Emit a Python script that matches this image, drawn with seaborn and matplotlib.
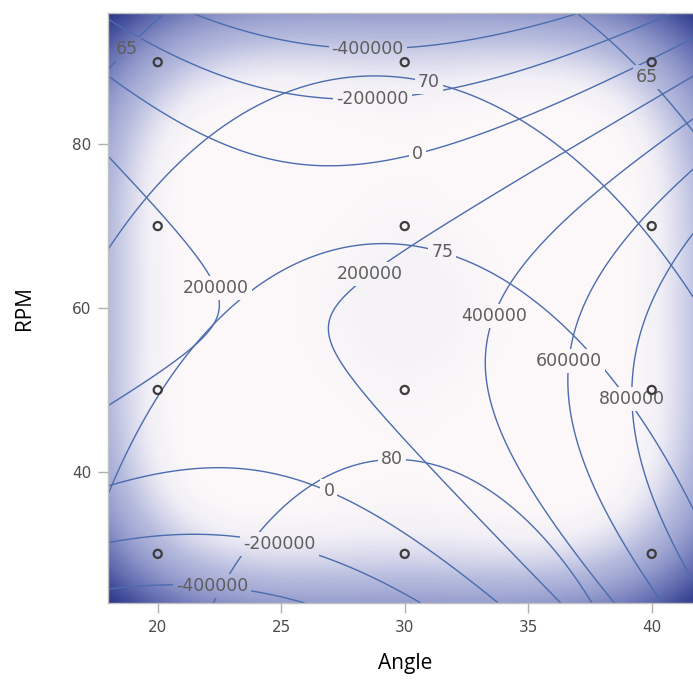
import numpy as np
import seaborn as sns
import matplotlib
matplotlib.use("Agg")
import matplotlib.pyplot as plt
from matplotlib.colors import LinearSegmentedColormap, Normalize
from matplotlib.path import Path
from matplotlib.transforms import IdentityTransform

# design points (Angle x RPM)
angles = [20, 30, 40]
rpms = [30, 50, 70, 90]

# fitted quadratic response surfaces, coded units u=(Angle-30)/10, w=(RPM-60)/30
# terms: 1, u, w, u^2, w^2, u*w
coef_small = [76.64, -0.598, -6.098, -4.138, -1.06, -0.4417]
coef_big = [257491, 280010, -137313, 270908, -456385, -198124]
levels_small = [65, 70, 75, 80]
levels_big = [-400000, -200000, 0, 200000, 400000, 600000, 800000]

# where the contour labels sit
labels_small = [(18.8, 91.5), (39.7, 87.8), (31.0, 87.8), (31.5, 66.5), (29.5, 41.2)]
labels_big = [(28.5, 91.5), (22.2, 25.7), (28.7, 85.6), (24.9, 30.8), (30.5, 78.9), (27.0, 38.1),
              (21.9, 61.9), (28.8, 63.3), (33.8, 58.8), (36.7, 53.5), (39.1, 48.9)]

xlim = (18, 42)
ylim = (24, 96)

pts = np.array([(a, r) for a in angles for r in rpms], dtype=float)


def terms(u, w):
    return np.stack([np.ones_like(u), u, w, u * u, w * w, u * w], axis=-1)


gx, gy = np.meshgrid(np.linspace(*xlim, 300), np.linspace(*ylim, 300))
gu, gw = (gx - 30) / 10, (gy - 60) / 30
T = terms(gu, gw)
small = T @ np.array(coef_small)
big = T @ np.array(coef_big)

# prediction variance of the quadratic model over the design -> background shading
F = terms((pts[:, 0] - 30) / 10, (pts[:, 1] - 60) / 30)
inv = np.linalg.inv(F.T @ F)
var = np.einsum("...i,ij,...j->...", T, inv, T)

vmin, vmax = 0.25, 1.50
stops = [(0.25, "#fdf9fb"), (0.32, "#fcf8fa"), (0.37, "#f6f3f7"), (0.40, "#f3f1f7"),
         (0.48, "#dcdcee"), (0.56, "#c4c8e4"), (0.62, "#b5badd"), (0.80, "#979ece"),
         (1.00, "#737cba"), (1.25, "#4a559f"), (1.50, "#2b3687")]
shade = LinearSegmentedColormap.from_list(
    "shade", [((v - vmin) / (vmax - vmin), c) for v, c in stops])

sns.set_style("white")
plt.rcParams["font.family"] = ["DejaVu Sans"]

fig = plt.figure(figsize=(6.93, 6.82), dpi=100)
ax = fig.add_axes([0.1563, 0.1158, 0.8554, 0.8651])

ax.imshow(var, extent=[*xlim, *ylim], origin="lower", aspect="auto",
          cmap=shade, norm=Normalize(vmin, vmax), interpolation="bilinear")

line_col = "#4b6cae"
sets, texts = [], []
for field, lev, pos in [(small, levels_small, labels_small), (big, levels_big, labels_big)]:
    cs = ax.contour(gx, gy, field, levels=lev, colors=line_col, linewidths=1.0, linestyles="solid")
    txts = ax.clabel(cs, fmt="%d", manual=pos, fontsize=12.5, colors="#5e5e5e", inline=False)
    for t in txts:
        t.set_rotation(0)
    sets.append(cs)
    texts += txts

sns.scatterplot(x=pts[:, 0], y=pts[:, 1], ax=ax, s=34, facecolor="none",
                edgecolor="#3c3c3c", linewidth=1.6, zorder=5)

ax.set_xlim(*xlim)
ax.set_ylim(*ylim)
ax.set_xticks([20, 25, 30, 35, 40])
ax.set_yticks([40, 60, 80])
ax.tick_params(direction="out", length=7, width=1, color="#b0b0b0", pad=5,
               labelsize=11, labelcolor="#4d4d4d", bottom=True, left=True)
for s in ax.spines.values():
    s.set_color("#c0c0c0")
    s.set_linewidth(1)

ax.set_xlabel("Angle", fontsize=15, family="Open Sans", color="black", labelpad=13)
ax.set_ylabel("RPM", fontsize=15, family="Open Sans", color="black", labelpad=27)

# cut the contour lines where the labels sit
fig.canvas.draw()
rend = fig.canvas.get_renderer()
box = ax.get_window_extent(rend)
verts = [(box.x0, box.y0), (box.x1, box.y0), (box.x1, box.y1), (box.x0, box.y1), (box.x0, box.y0)]
codes = [Path.MOVETO, Path.LINETO, Path.LINETO, Path.LINETO, Path.CLOSEPOLY]
for t in texts:
    bb = t.get_window_extent(rend).padded(3)
    verts += [(bb.x0, bb.y0), (bb.x0, bb.y1), (bb.x1, bb.y1), (bb.x1, bb.y0), (bb.x0, bb.y0)]
    codes += [Path.MOVETO, Path.LINETO, Path.LINETO, Path.LINETO, Path.CLOSEPOLY]
holes = Path(verts, codes)
for cs in sets:
    cs.set_clip_path(holes, IdentityTransform())

fig.savefig("out.png", dpi=100)
